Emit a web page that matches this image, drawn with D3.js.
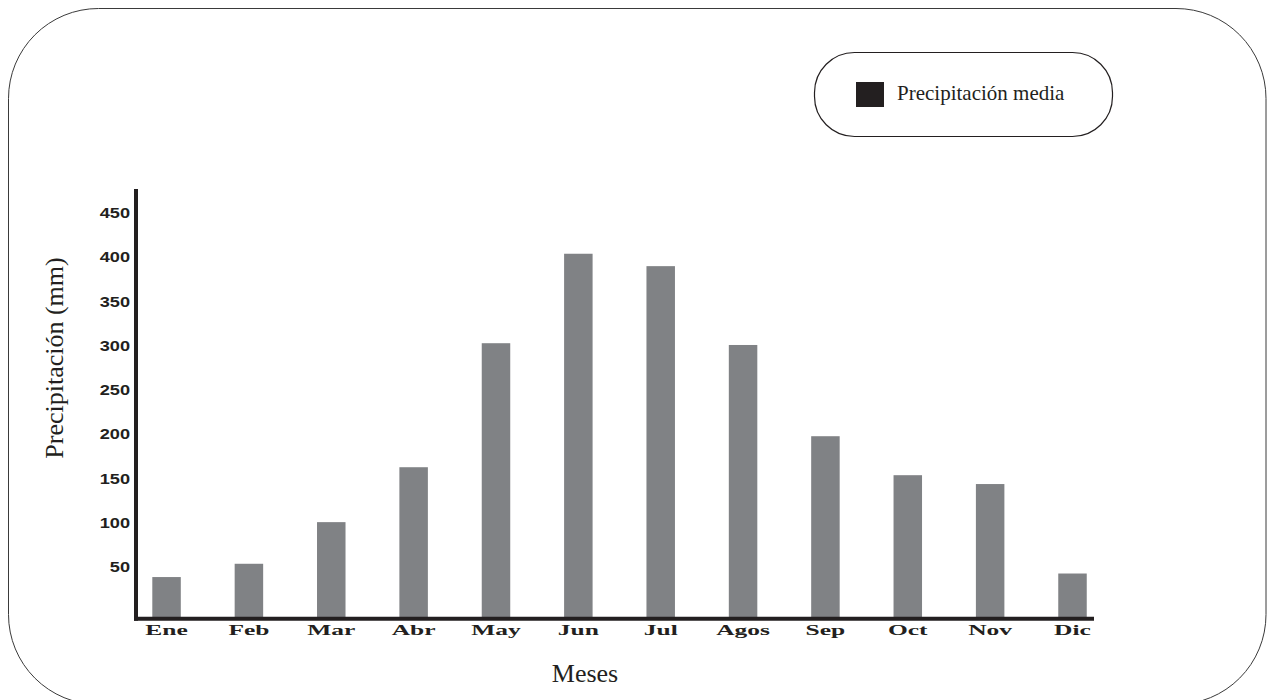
<!DOCTYPE html>
<html>
<head>
<meta charset="utf-8">
<script src="https://cdn.jsdelivr.net/npm/d3@7"></script>
<style>
  html, body { margin: 0; padding: 0; background: #fff; }
  svg { display: block; }
</style>
</head>
<body>
<svg id="chart" width="1267" height="700"></svg>
<script>
// ---- data ----
const months = ["Ene", "Feb", "Mar", "Abr", "May", "Jun", "Jul", "Agos", "Sep", "Oct", "Nov", "Dic"];
const precipitation = [39, 54, 101, 163, 303, 404, 390, 301, 198, 154, 144, 43];
const yTicks = [50, 100, 150, 200, 250, 300, 350, 400, 450];
const seriesName = "Precipitación media";
const yTitle = "Precipitación (mm)";
const xTitle = "Meses";

// ---- layout / style ----
const ink = "#231f20";
const barColor = "#808285";
const serif = "'Liberation Serif', 'Times New Roman', serif";
const sans = "'Liberation Sans', Arial, sans-serif";

const svg = d3.select("#chart");

// outer rounded frame
svg.append("rect")
  .attr("x", 8.5).attr("y", 8.5)
  .attr("width", 1257.5).attr("height", 696)
  .attr("rx", 90).attr("ry", 90)
  .attr("fill", "none").attr("stroke", "#3a3a3a").attr("stroke-width", 1);

// scales
const axisX = 136;        // y-axis line centre
const axisY = 618.7;      // x-axis line centre
const y = d3.scaleLinear().domain([0, 450]).range([611.6, 213]);
const x = d3.scaleBand().domain(months)
  .range([152.3, 1086.75]).paddingInner(0.654).paddingOuter(0);

// bars
svg.append("g").selectAll("rect")
  .data(months.map((m, i) => ({ m, v: precipitation[i] })))
  .join("rect")
  .attr("x", d => x(d.m))
  .attr("y", d => y(d.v))
  .attr("width", x.bandwidth())
  .attr("height", d => axisY - y(d.v))
  .attr("fill", barColor);

// y axis (labels)
const yAxisG = svg.append("g")
  .attr("transform", `translate(${axisX},0)`)
  .call(d3.axisLeft(y).tickValues(yTicks).tickSize(0).tickPadding(6));
yAxisG.select(".domain").remove();
yAxisG.selectAll("text")
  .attr("x", 0)
  .attr("transform", "translate(-6,0) scale(1.3,1)")
  .attr("font-family", sans)
  .attr("font-weight", "bold")
  .attr("font-size", 14)
  .attr("fill", ink);

// x axis (labels)
const xAxisG = svg.append("g")
  .attr("transform", `translate(0,${axisY})`)
  .call(d3.axisBottom(x).tickSize(0));
xAxisG.select(".domain").remove();
xAxisG.selectAll("text")
  .attr("y", 0).attr("dy", 0)
  .attr("transform", "translate(0,16.3) scale(1.7,1)")
  .attr("font-family", serif)
  .attr("font-weight", "bold")
  .attr("font-size", 15)
  .attr("fill", ink);

// axis lines
svg.append("line")
  .attr("x1", axisX).attr("x2", axisX)
  .attr("y1", 189).attr("y2", axisY + 2)
  .attr("stroke", ink).attr("stroke-width", 4);
svg.append("line")
  .attr("x1", axisX - 2).attr("x2", 1094)
  .attr("y1", axisY).attr("y2", axisY)
  .attr("stroke", ink).attr("stroke-width", 4);

// axis titles
svg.append("text")
  .attr("transform", "translate(63,358) rotate(-90)")
  .attr("text-anchor", "middle")
  .attr("font-family", serif)
  .attr("font-size", 26)
  .attr("fill", ink)
  .text(yTitle);

svg.append("text")
  .attr("x", 585).attr("y", 682)
  .attr("text-anchor", "middle")
  .attr("font-family", serif)
  .attr("font-size", 26)
  .attr("fill", ink)
  .text(xTitle);

// legend
const lg = svg.append("g");
lg.append("rect")
  .attr("x", 814.5).attr("y", 52.5)
  .attr("width", 298).attr("height", 84)
  .attr("rx", 40).attr("ry", 40)
  .attr("fill", "#fff").attr("stroke", ink).attr("stroke-width", 1.2);
lg.append("rect")
  .attr("x", 856).attr("y", 82)
  .attr("width", 28).attr("height", 25)
  .attr("fill", ink);
lg.append("text")
  .attr("x", 897).attr("y", 100)
  .attr("font-family", serif)
  .attr("font-size", 21)
  .attr("fill", ink)
  .text(seriesName);
</script>
</body>
</html>
